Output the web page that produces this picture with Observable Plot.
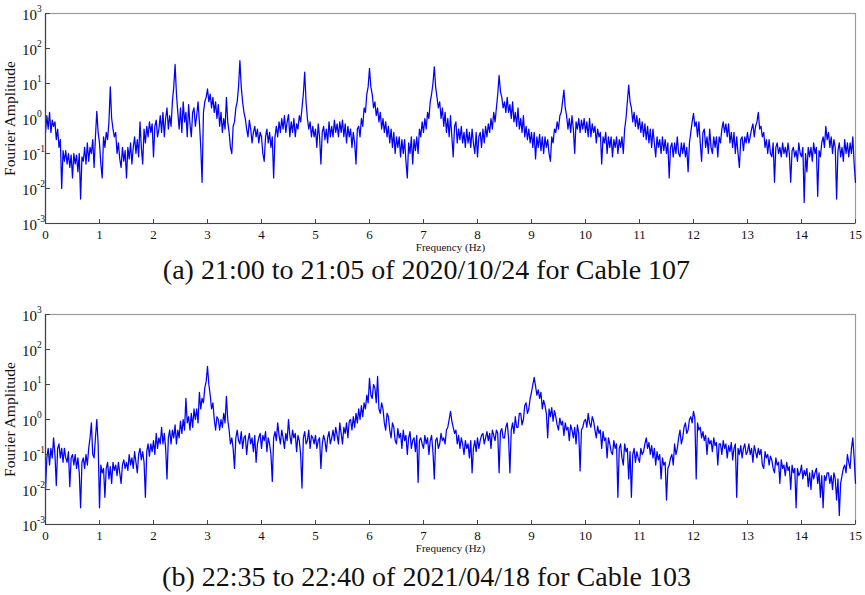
<!DOCTYPE html>
<html>
<head>
<meta charset="utf-8">
<script src="https://cdn.jsdelivr.net/npm/d3@7"></script>
<script src="https://cdn.jsdelivr.net/npm/@observablehq/plot@0.6"></script>
<style>
  html, body { margin: 0; padding: 0; background: #fff; }
  #root { position: relative; width: 865px; height: 595px; overflow: hidden; background: #fff; font-family: "Liberation Serif", "Times New Roman", serif; }
  .panel { position: absolute; left: 0; }
  .caption { position: absolute; left: 0; width: 853px; text-align: center; font-size: 28px; line-height: 30px; color: #111; font-family: "Liberation Serif", "Times New Roman", serif; }
</style>
</head>
<body>
<div id="root"></div>
<script>
// Frequency step of the sampled spectra (Hz)
const step = 0.025;

// Panel (a): Fourier amplitude, 0 to 15 Hz every 0.025 Hz (two lines of 20 values per Hz)
const ampA = [
  0.4,1.2,0.5,1.5,0.4,0.9,0.6,0.8,0.25,0.5,0.15,0.25,0.01,0.12,0.06,0.12,0.05,0.1,0.04,0.09,
  0.02,0.1,0.05,0.09,0.03,0.1,0.005,0.08,0.06,0.15,0.05,0.2,0.06,0.15,0.1,0.25,0.04,0.3,1.6,0.4,
  0.2,0.05,0.02,0.3,0.15,0.4,0.25,0.8,8,1,0.5,0.3,0.4,0.1,0.2,0.07,0.04,0.15,0.06,0.12,
  0.02,0.15,0.07,0.2,0.05,0.15,0.3,0.1,0.25,0.08,0.8,0.15,0.05,0.5,0.2,0.6,0.3,0.8,0.4,0.7,
  0.08,0.6,0.9,0.3,0.5,1.2,0.4,1.5,0.3,1,2,0.5,1.2,0.6,3,8,35,5,1.5,0.5,
  2,0.4,3,0.8,1.5,0.3,2.5,0.7,0.3,1.5,2,0.6,1.2,3,0.8,0.15,0.015,1.5,3,4,
  7,3,5,2,4,1.5,3,1,2.5,0.6,1.5,0.4,1,0.5,4,0.8,0.4,0.15,0.1,0.6,
  0.8,2,3,8,45,8,3,1.5,1,0.5,0.3,0.9,0.5,0.2,0.4,0.6,0.3,0.5,0.2,0.4,
  0.3,0.1,0.06,0.3,0.5,0.2,0.4,0.15,0.3,0.02,0.3,0.6,0.3,0.8,0.4,1,0.5,1.2,0.4,0.8,
  1.3,0.3,0.8,0.4,1,0.3,0.7,0.5,1.2,0.8,2,5,21,3,1,0.5,0.8,0.3,0.6,0.3,
  0.5,0.15,0.7,0.3,0.05,0.4,0.6,0.25,0.5,0.2,0.8,0.3,0.6,0.3,0.9,0.4,0.7,0.3,0.8,0.4,
  0.9,0.3,0.7,0.2,0.6,0.3,0.5,0.15,0.4,0.2,0.05,0.5,0.6,0.3,1,0.6,2,1.5,5,8,
  27,8,5,2,3,1.2,2,0.8,1.5,0.5,1,0.4,0.8,0.3,0.6,0.2,0.5,0.15,0.4,0.1,
  0.3,0.15,0.3,0.08,0.25,0.1,0.25,0.06,0.02,0.2,0.1,0.3,0.05,0.25,0.12,0.3,0.1,0.5,0.3,0.8,
  0.4,1,0.5,1.5,1,3,5,10,30,8,4,2,3,1,2,0.6,1.5,0.4,1,0.3,
  1.2,0.3,0.08,0.6,0.8,0.2,0.5,0.25,0.6,0.2,0.4,0.15,0.5,0.2,0.4,0.15,0.5,0.2,0.1,0.4,
  0.08,0.3,0.4,0.15,0.5,0.2,0.6,0.3,0.7,0.4,1,0.5,1.5,0.8,2,5,17,6,4,2,
  3,1.5,4,1.5,2.5,1,3,0.8,1.5,0.6,2,0.5,1,0.4,1.2,0.3,0.6,0.25,0.5,0.2,
  0.4,0.15,0.4,0.07,0.3,0.15,0.35,0.12,0.3,0.1,0.3,0.15,0.25,0.1,0.06,0.3,0.2,0.5,0.4,0.8,
  0.5,1.2,1.5,3,6.5,2,1.2,0.5,1,0.4,1.2,0.5,0.1,0.8,0.5,1,0.4,0.9,0.5,1,
  0.4,0.8,0.3,1,0.3,0.7,0.4,0.6,0.2,0.5,0.3,0.4,0.05,0.3,0.2,0.4,0.1,0.3,0.15,0.3,
  0.08,0.25,0.15,0.3,0.1,0.25,0.15,0.3,0.1,0.5,1,3,9,3,2,0.8,1.5,0.6,1.2,0.5,
  1,0.4,0.8,0.3,0.7,0.25,0.6,0.2,0.5,0.15,0.5,0.2,0.08,0.3,0.15,0.25,0.1,0.3,0.12,0.25,
  0.1,0.2,0.02,0.15,0.2,0.08,0.2,0.1,0.3,0.1,0.08,0.2,0.1,0.2,0.08,0.15,0.03,0.2,0.4,0.8,
  1.4,0.6,0.8,0.3,0.8,0.2,0.06,0.4,0.5,0.15,0.3,0.1,0.5,0.15,0.1,0.3,0.15,0.3,0.08,0.3,
  0.2,0.5,0.8,0.4,0.7,0.3,0.7,0.2,0.4,0.15,0.4,0.1,0.3,0.1,0.04,0.25,0.3,0.12,0.3,0.2,
  0.4,0.2,0.3,0.5,0.7,0.3,0.6,0.8,1.5,0.5,0.6,0.3,0.4,0.15,0.25,0.1,0.25,0.1,0.08,0.2,
  0.015,0.15,0.2,0.1,0.15,0.08,0.2,0.1,0.15,0.08,0.2,0.1,0.015,0.12,0.15,0.08,0.12,0.06,0.2,0.1,
  0.08,0.15,0.004,0.1,0.03,0.15,0.08,0.15,0.06,0.2,0.1,0.15,0.006,0.12,0.08,0.2,0.3,0.15,0.6,0.25,
  0.4,0.15,0.3,0.1,0.25,0.15,0.005,0.12,0.2,0.08,0.15,0.06,0.25,0.1,0.2,0.08,0.2,0.1,0.3,0.05,
  0.015
];

// Panel (b): Fourier amplitude, 0 to 15 Hz every 0.025 Hz
const ampB = [
  0.01,0.08,0.15,0.05,0.15,0.08,0.3,0.1,0.013,0.15,0.2,0.08,0.15,0.06,0.15,0.08,0.06,0.12,0.012,0.08,
  0.1,0.05,0.1,0.04,0.08,0.03,0.003,0.06,0.08,0.04,0.1,0.05,0.15,0.3,0.8,0.1,0.08,0.3,1,0.2,
  0.003,0.05,0.03,0.04,0.006,0.04,0.06,0.02,0.045,0.015,0.06,0.035,0.05,0.025,0.06,0.03,0.015,0.05,0.07,0.04,
  0.06,0.035,0.1,0.05,0.08,0.04,0.12,0.06,0.03,0.1,0.15,0.07,0.12,0.06,0.006,0.12,0.2,0.09,0.2,0.12,
  0.25,0.1,0.4,0.15,0.3,0.2,0.6,0.2,0.4,0.15,0.02,0.3,0.5,0.2,0.5,0.3,0.7,0.2,0.5,0.3,
  0.9,0.4,1,0.5,4,0.8,1.2,0.5,1.5,0.6,2,1,2,0.8,6,2,4,3,8,12,
  33,10,5,2,3,1,0.5,1.2,1,0.5,1,0.6,1.5,0.8,4.6,1,0.5,0.2,0.3,0.15,
  0.04,0.3,0.5,0.25,0.2,0.45,0.15,0.3,0.35,0.1,0.25,0.4,0.2,0.3,0.12,0.35,0.06,0.2,0.3,0.4,
  0.15,0.35,0.25,0.45,0.12,0.3,0.2,0.1,0.017,0.3,0.45,0.25,0.8,0.35,0.2,0.5,0.3,0.15,0.4,0.25,
  1,0.35,0.2,0.5,0.3,0.4,0.12,0.35,0.25,0.1,0.011,0.3,0.45,0.2,0.25,0.5,0.15,0.35,0.3,0.2,
  0.35,0.15,0.25,0.3,0.04,0.2,0.35,0.25,0.12,0.3,0.45,0.2,0.3,0.5,0.25,0.6,0.35,0.2,0.8,0.4,
  0.2,0.6,0.4,0.8,0.3,0.9,1,0.5,1.2,0.6,1.5,0.8,2,1,2.5,1.2,3,2,5,3,
  15,5,4,10,8,3,17,2,1.5,3,2,0.8,0.5,1.5,1.2,0.5,0.3,0.8,0.6,0.25,
  0.2,0.55,0.3,0.4,0.15,0.5,0.25,0.35,0.1,0.3,0.45,0.15,0.25,0.3,0.12,0.35,0.016,0.25,0.3,0.2,
  0.15,0.35,0.2,0.3,0.1,0.25,0.35,0.12,0.02,0.25,0.3,0.15,0.2,0.4,0.25,0.3,0.2,0.5,0.6,1,
  1.7,0.9,0.6,0.4,0.5,0.2,0.35,0.15,0.3,0.2,0.1,0.25,0.15,0.2,0.08,0.25,0.03,0.15,0.25,0.12,
  0.3,0.15,0.25,0.35,0.4,0.2,0.3,0.45,0.25,0.4,0.15,0.5,0.35,0.25,0.5,0.4,0.03,0.45,0.55,0.3,
  0.3,0.6,0.8,0.3,0.03,0.5,0.8,0.4,1.2,0.6,0.6,1.5,1.5,0.7,1,2.5,3,1.5,2,4,
  6,10,16,9,5,7,4,6,2,3.5,2.5,1.5,0.3,2,1.2,2.2,0.9,1.8,1.2,0.7,
  0.5,1.1,0.7,0.9,0.35,0.8,0.5,0.6,0.25,0.7,0.5,0.3,0.6,0.2,0.7,0.4,0.034,0.5,0.6,0.9,
  1,0.6,1.5,0.8,0.6,1.2,0.9,0.5,0.3,0.65,0.4,0.5,0.15,0.45,0.25,0.3,0.08,0.3,0.2,0.12,
  0.1,0.25,0.15,0.2,0.006,0.15,0.2,0.08,0.05,0.2,0.12,0.15,0.02,0.12,0.006,0.1,0.15,0.06,0.12,0.08,
  0.06,0.15,0.1,0.12,0.2,0.3,0.15,0.22,0.1,0.18,0.08,0.15,0.05,0.12,0.07,0.1,0.02,0.08,0.05,0.06,
  0.005,0.04,0.05,0.08,0.1,0.05,0.2,0.1,0.15,0.3,0.5,0.2,0.3,0.6,0.8,0.4,0.5,1,1.2,0.8,
  1.7,1.1,0.02,0.8,0.5,0.6,0.3,0.45,0.25,0.35,0.1,0.3,0.2,0.25,0.12,0.3,0.18,0.22,0.05,0.2,
  0.2,0.1,0.25,0.15,0.2,0.08,0.18,0.12,0.22,0.07,0.15,0.2,0.006,0.15,0.1,0.18,0.08,0.15,0.2,0.1,
  0.12,0.2,0.1,0.15,0.06,0.18,0.12,0.08,0.15,0.1,0.14,0.05,0.04,0.12,0.08,0.1,0.05,0.09,0.07,0.04,
  0.03,0.08,0.05,0.06,0.015,0.07,0.04,0.05,0.025,0.06,0.035,0.045,0.01,0.05,0.03,0.04,0.003,0.04,0.025,0.03,
  0.05,0.02,0.035,0.025,0.04,0.012,0.03,0.01,0.035,0.02,0.03,0.04,0.015,0.03,0.006,0.025,0.003,0.025,0.018,0.03,
  0.03,0.015,0.025,0.01,0.03,0.02,0.005,0.02,0.0018,0.015,0.025,0.04,0.05,0.03,0.1,0.06,0.04,0.15,0.3,0.08,
  0.015
];

const xTicks = [0,1,2,3,4,5,6,7,8,9,10,11,12,13,14,15];
const yTicks = [1e-3,1e-2,1e-1,1,10,100,1000];
const yExponents = ["-3","-2","-1","0","1","2","3"];
const xLabel = "Frequency (Hz)";
const yLabel = "Fourier Amplitude";
const captionA = "(a) 21:00 to 21:05 of 2020/10/24 for Cable 107";
const captionB = "(b) 22:35 to 22:40 of 2021/04/18 for Cable 103";

const serif = "'Liberation Serif', 'Times New Roman', serif";

function panel(amp) {
  const data = amp.map((a, i) => ({f: i * step, a}));
  const yt = yTicks.map((v, i) => ({v, e: yExponents[i]}));
  return Plot.plot({
    width: 865,
    height: 255,
    marginLeft: 45,
    marginRight: 10,
    marginTop: 13,
    marginBottom: 32,
    style: {fontFamily: serif, background: "transparent", color: "#111", overflow: "visible"},
    x: {domain: [0, 15], label: null},
    y: {type: "log", domain: [1e-3, 1e3], label: null},
    marks: [
      Plot.frame({stroke: "#9a9a9a", strokeWidth: 1.2}),
      Plot.line(data, {x: "f", y: "a", stroke: "#0000ff", strokeWidth: 1.25}),
      Plot.ruleX([0], {stroke: "#444", strokeWidth: 1.2}),
      Plot.ruleY([1e-3], {stroke: "#444", strokeWidth: 1.2}),
      Plot.axisX({ticks: xTicks, tickSize: -4, tickFormat: () => "", stroke: "#444", label: null}),
      Plot.axisX({ticks: xTicks, tickSize: 0, tickPadding: 6, fontSize: 13, tickFormat: d3.format("d"), fill: "#111", label: null}),
      Plot.axisY({ticks: yTicks, tickSize: -5, tickFormat: () => "", stroke: "#444", label: null}),
      Plot.text(yt, {y: "v", text: () => "10", frameAnchor: "left", dx: -8.5, dy: 2, textAnchor: "end", fontSize: 15, fill: "#111"}),
      Plot.text(yt, {y: "v", text: "e", frameAnchor: "left", dx: -8.5, dy: -4.5, textAnchor: "start", fontSize: 9.5, fill: "#111"}),
      Plot.text([yLabel], {text: d => d, frameAnchor: "left", dx: -35, rotate: -90, textAnchor: "middle", fontSize: 15.5, fill: "#111"}),
      Plot.text([xLabel], {text: d => d, frameAnchor: "bottom", dy: 27, fontSize: 11, fill: "#111"})
    ]
  });
}

const root = document.getElementById("root");
function place(el, top, cls) {
  const wrap = document.createElement("div");
  wrap.className = cls;
  wrap.style.top = top + "px";
  if (typeof el === "string") wrap.textContent = el; else wrap.appendChild(el);
  root.appendChild(wrap);
}
place(panel(ampA), 0, "panel");
place(panel(ampB), 301, "panel");
place(captionA, 255, "caption");
place(captionB, 562, "caption");
</script>
</body>
</html>
